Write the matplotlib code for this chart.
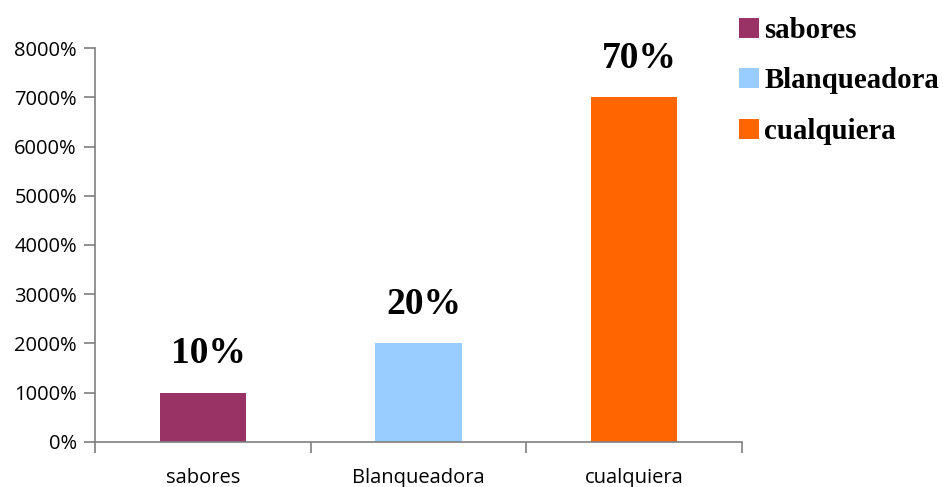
import numpy as np
import matplotlib.pyplot as plt
from matplotlib.ticker import PercentFormatter
from matplotlib.patches import Patch

# datos
categorias = ['sabores', 'Blanqueadora', 'cualquiera']
valores = [10, 20, 70]
colores = ['#993366', '#99CCFF', '#FF6600']
etiquetas = ['10%', '20%', '70%']

fig = plt.figure(figsize=(9.43, 4.87), dpi=100)
ax = fig.add_axes([95/943, 1 - 441.7/487, 647/943, 393.4/487])

x = np.arange(len(categorias))
bars = ax.bar(x, valores, width=0.4, color=colores)

ax.set_xlim(-0.5, len(categorias) - 0.5)
ax.set_ylim(0, 80)
ax.set_yticks(np.arange(0, 81, 10))
ax.yaxis.set_major_formatter(PercentFormatter(xmax=1, decimals=0))

# etiquetas de categoria centradas, marcas en los limites
ax.set_xticks(x)
ax.set_xticklabels(categorias)
ax.set_xticks(np.arange(-0.5, len(categorias)), minor=True)
ax.tick_params(axis='x', which='major', length=0, pad=19)
ax.tick_params(axis='x', which='minor', length=8, width=1.2, color='#7f7f7f')
ax.tick_params(axis='y', length=8, width=1.2, color='#7f7f7f', pad=5)

for lab in ax.get_xticklabels() + ax.get_yticklabels():
    lab.set_fontfamily('Open Sans')
    lab.set_fontsize(14.5)
    lab.set_color('black')

for s in ['top', 'right']:
    ax.spines[s].set_visible(False)
for s in ['left', 'bottom']:
    ax.spines[s].set_color('#7f7f7f')
    ax.spines[s].set_linewidth(1.2)

# etiquetas de datos
for b, t in zip(bars, etiquetas):
    ax.annotate(t, (b.get_x() + b.get_width() / 2, b.get_height()),
                xytext=(4, 21), textcoords='offset points',
                ha='center', va='baseline',
                fontfamily='Liberation Serif', fontweight='bold', fontsize=27)

handles = [Patch(facecolor=c, edgecolor='none') for c in colores]
fig.legend(handles, categorias, loc='upper left',
           bbox_to_anchor=(739/943, 1 - 17/487), frameon=False,
           borderpad=0, borderaxespad=0, handlelength=0.68, handleheight=0.68,
           handletextpad=0.2, labelspacing=0.81,
           prop={'family': 'Liberation Serif', 'weight': 'bold', 'size': 20.8})

fig.savefig('out.png', dpi=100)
